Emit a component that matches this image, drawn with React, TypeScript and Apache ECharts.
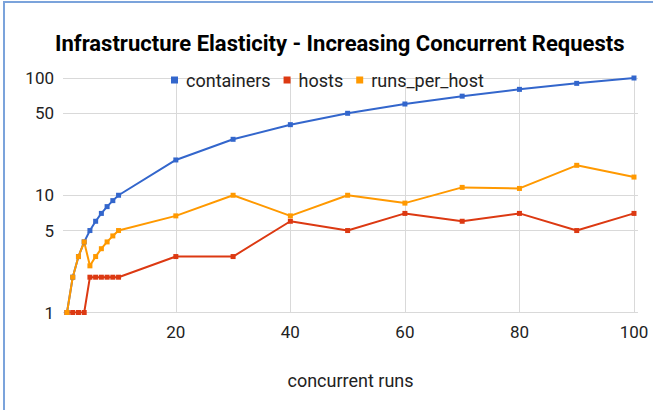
import React, { useEffect, useRef } from "react";
import * as echarts from "echarts";

const runs = [1, 2, 3, 4, 5, 6, 7, 8, 9, 10, 20, 30, 40, 50, 60, 70, 80, 90, 100];
const containers = [1, 2, 3, 4, 5, 6, 7, 8, 9, 10, 20, 30, 40, 50, 60, 70, 80, 90, 100];
const hosts = [1, 1, 1, 1, 2, 2, 2, 2, 2, 2, 3, 3, 6, 5, 7, 6, 7, 5, 7];
const runsPerHost = [1, 2, 3, 4, 2.5, 3, 3.5, 4, 4.5, 5, 6.67, 10, 6.67, 10, 8.57, 11.67, 11.43, 18, 14.29];
const yTicks = [1, 5, 10, 50, 100];
const xTicks = [20, 40, 60, 80, 100];

const seriesNames = ["containers", "hosts", "runs_per_host"];
const seriesData = [containers, hosts, runsPerHost];
const colors = ["#3366CC", "#DC3912", "#FF9900"];

export default function App() {
  const ref = useRef<HTMLDivElement>(null);
  useEffect(() => {
    const chart = echarts.init(ref.current!, null, { renderer: "svg" });
    const font = "Roboto, 'Noto Sans', Arial, sans-serif";
    chart.setOption({
      animation: false,
      backgroundColor: "#ffffff",
      textStyle: { fontFamily: font },
      color: colors,
      title: {
        text: "Infrastructure Elasticity - Increasing Concurrent Requests",
        left: 50,
        top: 27,
        textStyle: { fontSize: 22, fontWeight: "bold", color: "#000", fontFamily: font },
      },
      legend: {
        left: 166,
        top: 66,
        itemWidth: 7,
        itemHeight: 7,
        itemGap: 13,
        icon: "rect",
        textStyle: { fontSize: 18, color: "#222", padding: [0, 0, 0, 3], fontFamily: font },
        data: seriesNames,
      },
      grid: { left: 63, right: 15, top: 78, bottom: 97.5, containLabel: false },
      xAxis: {
        type: "value",
        min: 0.3,
        max: 100.7,
        name: "concurrent runs",
        nameLocation: "middle",
        nameGap: 59,
        nameTextStyle: { fontSize: 18, color: "#222" },
        axisLine: { show: false },
        axisTick: { show: false, customValues: xTicks },
        axisLabel: { customValues: xTicks, fontSize: 17, color: "#222", margin: 11 },
        splitLine: { show: true, lineStyle: { color: "#d9d9d9", width: 1 } },
      },
      yAxis: {
        type: "log",
        logBase: 10,
        min: 1,
        max: 100,
        axisLine: { show: false },
        axisTick: { show: false, customValues: yTicks },
        axisLabel: { customValues: yTicks, fontSize: 17, color: "#222", margin: 9 },
        splitLine: { show: true, lineStyle: { color: "#d9d9d9", width: 1 } },
      },
      graphic: [
        {
          type: "rect",
          shape: { x: 4, y: 2, width: 700, height: 500 },
          style: { fill: "none", stroke: "#7BA3DB", lineWidth: 2 },
          silent: true,
        },
      ],
      series: seriesNames.map((name, i) => ({
        name,
        type: "line",
        data: runs.map((r, j) => [r, seriesData[i][j]]),
        symbol: "rect",
        symbolSize: 5,
        showSymbol: true,
        lineStyle: { width: 2 },
        itemStyle: { color: colors[i] },
      })),
    });
    return () => chart.dispose();
  }, []);
  return (
    <div
      ref={ref}
      style={{ position: "absolute", left: 0, top: 0, width: 653, height: 410 }}
    />
  );
}
